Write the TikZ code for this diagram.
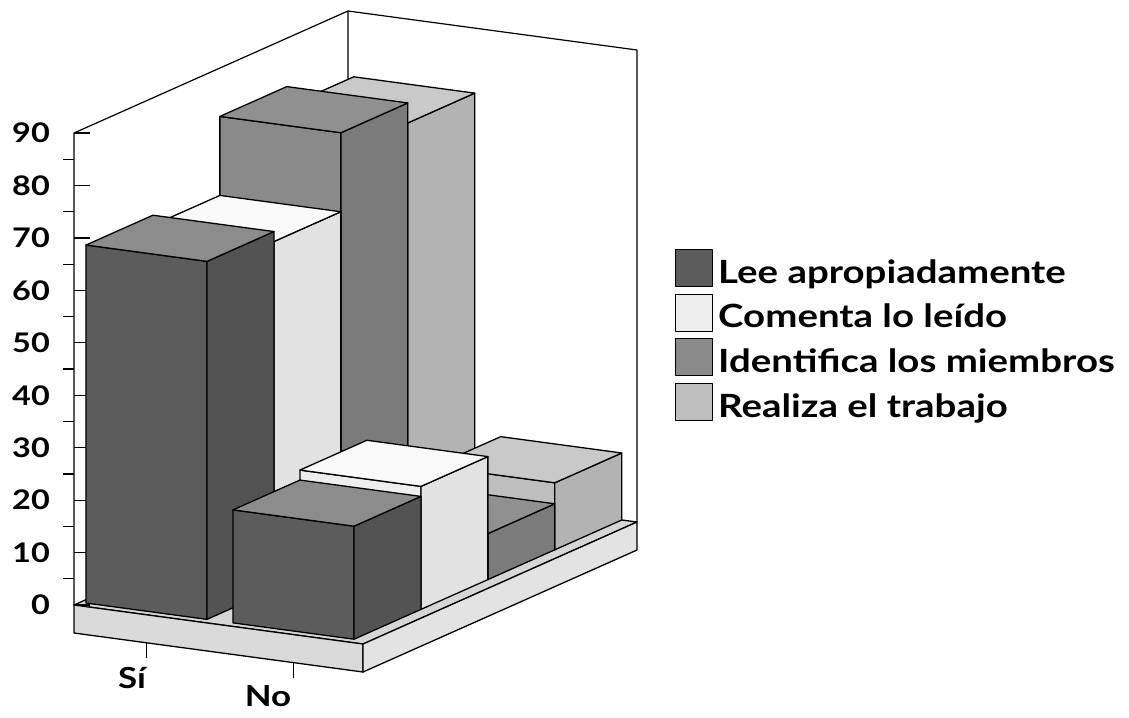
\documentclass[tikz,border=0pt]{standalone}
\usepackage{fontspec}
\setmainfont{Lato}
\newfontfamily\labfont{Lato}[FakeStretch=1.2]
\definecolor{leeF}{HTML}{5C5C5C}\definecolor{leeS}{HTML}{535353}\definecolor{leeT}{HTML}{8C8C8C}
\definecolor{comF}{HTML}{EEEEEE}\definecolor{comS}{HTML}{E2E2E2}\definecolor{comT}{HTML}{F9F9F9}
\definecolor{ideF}{HTML}{8A8A8A}\definecolor{ideS}{HTML}{7B7B7B}\definecolor{ideT}{HTML}{909090}
\definecolor{reaF}{HTML}{BEBEBE}\definecolor{reaS}{HTML}{B3B3B3}\definecolor{reaT}{HTML}{C9C9C9}
\definecolor{floT}{HTML}{D6D6D6}\definecolor{floF}{HTML}{DADADA}\definecolor{floS}{HTML}{E3E3E3}
\newcommand\drawbox[8]{%
  \filldraw[edge,fill=#6] (#1,#3,0) -- (#2,#3,0) -- (#2,#3,#5) -- (#1,#3,#5) -- cycle;
  \filldraw[edge,fill=#7] (#2,#3,0) -- (#2,#4,0) -- (#2,#4,#5) -- (#2,#3,#5) -- cycle;
  \filldraw[edge,fill=#8] (#1,#3,#5) -- (#2,#3,#5) -- (#2,#4,#5) -- (#1,#4,#5) -- cycle;
}
\begin{document}
\begin{tikzpicture}[x=1pt,y=1pt,line join=round,
  edge/.style={draw=black,line width=1.3pt},
  wall/.style={draw=black,line width=1.2pt},
  tick/.style={draw=black,line width=1.2pt},
  ylab/.style={anchor=east,font=\labfont\fontsize{27}{30}\selectfont\bfseries,inner sep=0pt},
  xlab/.style={anchor=center,font=\labfont\fontsize{29}{31}\selectfont\bfseries,inner sep=0pt},
  legbox/.style={draw=black,line width=1pt,minimum size=37pt,inner sep=0pt},
  legtext/.style={anchor=base west,font=\labfont\fontsize{32}{34}\selectfont\bfseries,inner sep=0pt}]
\useasboundingbox (0,0) rectangle (1129,-717);
\begin{scope}[shift={(74,-605)},x={(1pt,-0.135pt)},y={(274pt,122pt)},z={(0pt,1pt)}]
  % floor
  \filldraw[edge,fill=floT] (0,0,0) -- (289,0,0) -- (289,1,0) -- (0,1,0) -- cycle;
  \filldraw[edge,fill=floF] (0,0,0) -- (289,0,0) -- (289,0,-28) -- (0,0,-28) -- cycle;
  \filldraw[edge,fill=floS] (289,0,0) -- (289,1,0) -- (289,1,-28) -- (289,0,-28) -- cycle;
  % walls
  \draw[wall] (0,0,0) -- (0,0,472) -- (0,1,472) -- (0,1,0);
  \draw[wall] (0,1,472) -- (289,1,472) -- (289,1,0);
  % axis ticks
  \foreach \k in {0,...,9}{\draw[tick] (0,0,52.44*\k) -- ++(16pt,0pt);}
  \foreach \k in {0,...,8}{\draw[tick] (0,0,52.44*\k+26.22) -- ++(-11pt,0pt);}
  % category ticks
  \coordinate (tsi) at (72.5,0,-28);
  \coordinate (tno) at (219.5,0,-28);
  \draw[tick] (tsi) -- ++(0pt,-15pt);
  \draw[tick] (tno) -- ++(0pt,-15pt);
  % bars, back to front
  \drawbox{5.8}{126.8}{0.7555}{0.9998}{407}{reaF}{reaS}{reaT}
  \drawbox{152.8}{273.8}{0.7555}{0.9998}{67}{reaF}{reaS}{reaT}
  \drawbox{5.8}{126.8}{0.5112}{0.7555}{427}{ideF}{ideS}{ideT}
  \drawbox{152.8}{273.8}{0.5112}{0.7555}{46}{ideF}{ideS}{ideT}
  \drawbox{5.8}{126.8}{0.2669}{0.5112}{348}{comF}{comS}{comT}
  \drawbox{152.8}{273.8}{0.2669}{0.5112}{123}{comF}{comS}{comT}
  \drawbox{5.8}{126.8}{0.0226}{0.2669}{358}{leeF}{leeS}{leeT}
  \drawbox{152.8}{273.8}{0.0226}{0.2669}{113}{leeF}{leeS}{leeT}
\end{scope}
% y labels
\foreach \v [count=\i from 0] in {0,10,20,30,40,50,60,70,80,90}{
  \node[ylab] (y\i) at (50,{-605+52.44*\i}) {\v};
}
\node[xlab] (si) at (132,-678) {Sí};
\node[xlab] (no) at (268,-696) {No};
% legend
\node[legbox,fill=leeF] (l1) at (694,-268) {};
\node[legbox,fill=comF] (l2) at (694,-312.7) {};
\node[legbox,fill=ideF] (l3) at (694,-357.4) {};
\node[legbox,fill=reaF] (l4) at (694,-402.1) {};
\node[legtext] (t1) at (718,-283) {Lee apropiadamente};
\node[legtext] (t2) at (718,-327.7) {Comenta lo leído};
\node[legtext] (t3) at (718,-372.4) {Identifica los miembros};
\node[legtext] (t4) at (718,-417.1) {Realiza el trabajo};
\end{tikzpicture}
\end{document}
